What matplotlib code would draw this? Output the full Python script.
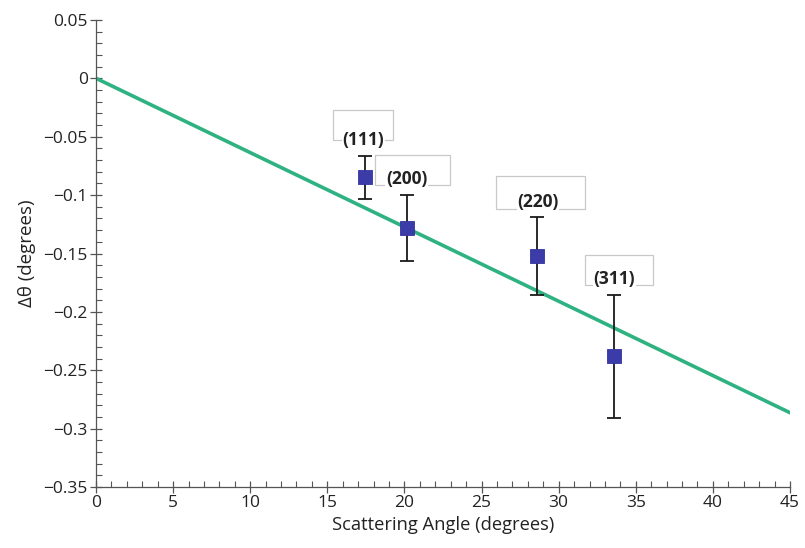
import matplotlib
matplotlib.use("Agg")
import matplotlib.pyplot as plt
from matplotlib.patches import Rectangle
from matplotlib.ticker import MultipleLocator, FuncFormatter
from matplotlib.transforms import ScaledTranslation, Affine2D

# Data
labels = ["(111)", "(200)", "(220)", "(311)"]
angles = [17.45, 20.15, 28.6, 33.6]
dtheta = [-0.0848, -0.1282, -0.1524, -0.2378]
errors = [0.0186, 0.0281, 0.0334, 0.0526]
fit_x = [0, 45]
fit_y = [0.0, -0.2863]

# Layout (pixel offsets of label text and boxes relative to each point, up = positive)
text_off = [(-2, 37), (0, 49), (1, 54), (0, 77)]
box_off = [(-32, 37, 60, 30), (-32, 43, 75, 30), (-41, 47, 89, 33), (-29, 71, 68, 30)]

plt.rcParams['font.family'] = ['Open Sans', 'DejaVu Sans']

fig = plt.figure(figsize=(8.05, 5.48), dpi=100)
ax = fig.add_axes([96/805, 0.1111, (790-96)/805, 0.9637-0.1111])

ax.plot(fit_x, fit_y, color='#2eb282', lw=2.6, solid_capstyle='round', zorder=2)
ax.errorbar(angles, dtheta, yerr=errors, fmt='none', ecolor='#1a1a1a',
            elinewidth=1.3, capsize=5, capthick=1.3, zorder=3)
ax.plot(angles, dtheta, ls='none', marker='s', ms=9.5, mfc='#3c3ca8',
        mec='#3232a0', mew=0.6, zorder=4)

ax.set_xlim(0, 45)
ax.set_ylim(-0.35, 0.05)

for s in ['top', 'right']:
    ax.spines[s].set_visible(False)
for s in ['left', 'bottom']:
    ax.spines[s].set_color('#555555')
    ax.spines[s].set_linewidth(0.9)

ax.xaxis.set_major_locator(MultipleLocator(5))
ax.xaxis.set_minor_locator(MultipleLocator(1))
ax.yaxis.set_major_locator(MultipleLocator(0.05))
ax.yaxis.set_minor_locator(MultipleLocator(0.01))

def fmt(v, pos):
    s = ('%.2f' % v).rstrip('0').rstrip('.')
    if s in ('-0', '0'):
        return '0'
    return s.replace('-', '\u2212')

ax.yaxis.set_major_formatter(FuncFormatter(fmt))
ax.xaxis.set_major_formatter(FuncFormatter(lambda v, p: '%d' % v))

ax.tick_params(which='major', direction='inout', length=8, width=0.9,
               color='#555555', labelsize=12.5, labelcolor='#222222', pad=2)
ax.tick_params(which='minor', direction='in', length=4, width=0.8, color='#555555')

ax.set_xlabel('Scattering Angle (degrees)', fontsize=13.2, color='#222222', labelpad=3)
ax.set_ylabel('\u0394\u03b8 (degrees)', fontsize=13.5, color='#222222', labelpad=5)

px = Affine2D().scale(fig.dpi / 100.0)
for lab, x, y, (tx, ty), (bx, by, bw, bh) in zip(labels, angles, dtheta, text_off, box_off):
    trans = px + ScaledTranslation(x, y, ax.transData)
    ax.add_patch(Rectangle((bx, by), bw, bh, transform=trans, fill=False,
                           ec='#c8c8c8', lw=0.9, clip_on=False, zorder=1))
    ax.text(tx, ty, lab, transform=trans, ha='center', va='center',
            fontsize=12.5, fontweight='bold', color='#222222', zorder=5,
            bbox=dict(facecolor='white', edgecolor='none', pad=0.5))

fig.savefig('out.png', dpi=100)
